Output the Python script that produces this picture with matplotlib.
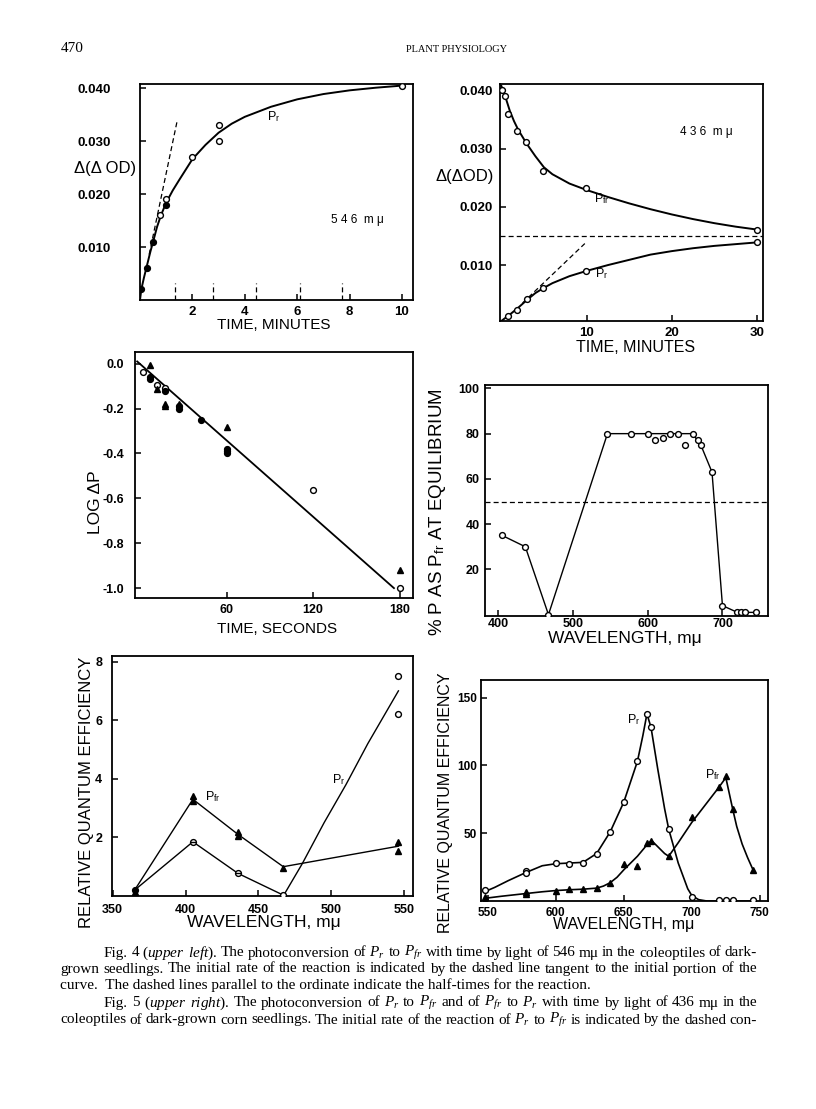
import matplotlib.pyplot as plt

W, H = 816, 1109
plt.rcParams['font.family'] = ['Liberation Sans', 'DejaVu Sans']
plt.rcParams['axes.unicode_minus'] = False
plt.rcParams['mathtext.fontset'] = 'custom'
plt.rcParams['mathtext.it'] = 'Liberation Serif:italic'
plt.rcParams['mathtext.rm'] = 'Liberation Serif'

# ---- Fig 4: Pr -> Pfr, 546 mu ----
f4_open_t = [0.75, 1.0, 2.0, 3.0, 3.0, 10.0]
f4_open_od = [0.016, 0.019, 0.027, 0.033, 0.030, 0.0405]
f4_fill_t = [0.05, 0.25, 0.5, 1.0]
f4_fill_od = [0.002, 0.006, 0.011, 0.018]
f4_curve_t = [0, 0.05, 0.15, 0.25, 0.4, 0.5, 0.65, 0.8, 1.0, 1.25, 1.5, 2.0, 2.5,
              3.0, 3.5, 4.0, 5.0, 6.0, 7.0, 8.0, 9.0, 10.0]
f4_curve_od = [0, 0.002, 0.0042, 0.0062, 0.0092, 0.011, 0.0138, 0.016, 0.0184, 0.0207,
               0.0227, 0.0266, 0.0293, 0.0316, 0.0333, 0.0346, 0.0365, 0.0379, 0.0389,
               0.0396, 0.0401, 0.0405]
f4_tangent_t = [0.35, 1.43]
f4_tangent_od = [0.0086, 0.0341]
f4_half_t = [1.33, 2.80, 4.41, 6.12, 7.71]

# ---- Fig 5: 436 mu ----
f5_pfr_t = [0.1, 0.4, 0.8, 1.8, 2.85, 4.84, 9.9, 30]
f5_pfr_od = [0.0400, 0.0391, 0.0360, 0.0330, 0.0311, 0.0262, 0.0232, 0.0161]
f5_pr_t = [0, 0.8, 1.9, 3.0, 4.84, 9.9, 30]
f5_pr_od = [0.0004, 0.00125, 0.0023, 0.0041, 0.0061, 0.0090, 0.0139]
f5_pfr_curve_t = [0, 0.5, 1, 1.5, 2, 3, 4, 5, 6, 8, 10, 12.5, 15, 17.5, 20, 22.5, 25, 27.5, 30]
f5_pfr_curve_od = [0.0408, 0.0388, 0.0365, 0.0347, 0.0332, 0.0308, 0.0287, 0.0268, 0.0256,
                   0.0240, 0.0229, 0.0217, 0.0206, 0.0196, 0.0187, 0.0179, 0.0172, 0.0166, 0.0161]
f5_pr_curve_t = [0, 1, 2, 3, 4, 5, 6, 8, 10, 12.5, 15, 17.5, 20, 22.5, 25, 27.5, 30]
f5_pr_curve_od = [0.0004, 0.0015, 0.0027, 0.0040, 0.0052, 0.0061, 0.0069, 0.0081, 0.0090,
                  0.0100, 0.0109, 0.0118, 0.0124, 0.0129, 0.0133, 0.0136, 0.0139]
f5_tangent_t = [2.5, 9.8]
f5_tangent_od = [0.0035, 0.0137]
f5_equil = 0.0150

# ---- log plot ----
log_line_t = [-2, 176]
log_line_v = [0.01, -1.0]
log_open_t = [2, 12, 17, 120, 180]
log_open_v = [-0.037, -0.095, -0.107, -0.565, -1.0]
log_fill_t = [7, 7, 17, 27, 27, 42, 60, 60, 60]
log_fill_v = [-0.06, -0.07, -0.122, -0.19, -0.20, -0.25, -0.378, -0.39, -0.40]
log_tri_t = [7, 12, 17, 17, 27, 60, 180]
log_tri_v = [-0.005, -0.115, -0.178, -0.19, -0.18, -0.28, -0.92]

# ---- % P as Pfr at equilibrium ----
eq_line_wl = [405, 436, 467, 546, 578, 600, 630, 640, 660, 671, 686, 700, 720, 725, 730, 745]
eq_line_pct = [35, 30, 0, 80, 80, 80, 80, 80, 80, 75, 63, 4, 1, 1, 1, 1]
eq_off_wl = [610, 620, 650, 667]
eq_off_pct = [77, 78, 75, 77]
eq_half = 50

# ---- quantum efficiency, blue ----
qb_pfr_wl = [365, 405, 436, 467, 546]
qb_pfr = [0.2, 3.3, 2.1, 1.0, 1.7]
qb_pfr_pts_wl = [365, 405, 405, 436, 436, 467, 546, 546]
qb_pfr_pts = [0.12, 3.4, 3.25, 2.2, 2.05, 0.97, 1.85, 1.54]
qb_theta_wl = [365, 405, 436, 467]
qb_theta = [0.2, 1.85, 0.77, 0.03]
qb_pr_wl = [467, 480, 495, 510, 525, 546]
qb_pr = [0.0, 1.1, 2.5, 3.8, 5.2, 7.0]
qb_pr_pts_wl = [546, 546]
qb_pr_pts = [7.5, 6.2]

# ---- quantum efficiency, red ----
qr_pr_wl = [548, 578, 578, 600, 610, 620, 630, 640, 650, 660, 667, 670, 683, 700, 720, 725, 730, 745]
qr_pr = [8, 22, 21, 28, 27, 28, 35, 51, 73, 103, 138, 128, 53, 3, 0.8, 0.8, 0.8, 0.5]
qr_pfr_wl = [548, 548, 578, 578, 600, 610, 620, 630, 640, 650, 660, 667, 670, 683, 700, 720, 725, 730, 745]
qr_pfr = [3, 1, 6.5, 5, 7.7, 8.7, 8.7, 9.4, 13, 27, 26, 43, 44, 33, 62, 84, 92, 68, 23]
qr_pr_curve_wl = [548, 555, 565, 578, 590, 600, 610, 620, 630, 640, 650, 660, 664, 667, 670,
                  675, 680, 683, 690, 697, 700, 705, 711, 720, 745]
qr_pr_curve = [7, 10, 15, 21, 26, 27.5, 28, 28.5, 35, 51, 73, 103, 122, 138, 128,
               97, 68, 53, 28, 9, 4, 1, 0, 0, 0]
qr_pfr_curve_wl = [548, 560, 578, 590, 600, 610, 620, 630, 635, 640, 645, 650, 655, 660, 665,
                   668, 671, 675, 680, 683, 690, 700, 710, 720, 725, 730, 733, 737, 741, 745]
qr_pfr_curve = [2, 3.5, 5.5, 6.8, 7.7, 8.3, 8.7, 9.5, 11, 13.5, 17.5, 23, 28, 33, 39,
                43, 44, 40, 35, 33, 43, 58, 71, 84, 91, 68, 55, 42, 32, 23]

fig = plt.figure(figsize=(W / 100, H / 100), dpi=100)


def box(l, t, r, b):
    return fig.add_axes([l / W, 1 - b / H, (r - l) / W, (b - t) / H])


def ptext(x, y, s, **kw):
    kw.setdefault('ha', 'center')
    kw.setdefault('va', 'center')
    return fig.text(x / W, 1 - y / H, s, **kw)


def style(ax, size=9, xpad=4, ypad=5):
    for s in ax.spines.values():
        s.set_linewidth(1.3)
    ax.tick_params(direction='in', length=4, width=1.1, labelsize=size)
    ax.tick_params(axis='x', pad=xpad)
    ax.tick_params(axis='y', pad=ypad)
    for lbl in ax.get_xticklabels() + ax.get_yticklabels():
        lbl.set_fontweight('bold')


op = dict(marker='o', ms=4.2, mfc='white', mec='black', mew=1.0, ls='none', zorder=3)
fl = dict(marker='o', ms=4.2, mfc='black', mec='black', ls='none', zorder=3)
tr = dict(marker='^', ms=4.2, mfc='black', mec='black', ls='none', zorder=3)
dash = dict(color='black', lw=0.9, ls=(0, (4, 2.5)))
PR = 'P$_\\mathregular{r}$'
PFR = 'P$_\\mathregular{fr}$'

# Fig 4
ax1 = box(140, 84, 413, 300)
ax1.plot(f4_curve_t, f4_curve_od, color='black', lw=1.4)
ax1.plot(f4_tangent_t, f4_tangent_od, **dash)
for t in f4_half_t:
    ax1.plot([t, t], [0, 0.0033], **dash)
ax1.plot(f4_open_t, f4_open_od, **op)
ax1.plot(f4_fill_t, f4_fill_od, **fl)
ax1.set_xlim(0, 10.42)
ax1.set_ylim(0, 0.0408)
ax1.set_xticks([2, 4, 6, 8, 10])
ax1.set_yticks([0.01, 0.02, 0.03, 0.04])
ax1.set_yticklabels(['0.010', '0.020', '0.030', '0.040'])
ax1.text(5.1, 0.0346, PR, fontsize=9, ha='center', va='center')
ax1.text(8.3, 0.0151, '5 4 6  m μ', fontsize=8.5, ha='center', va='center')
style(ax1, size=9.5, xpad=4, ypad=21)
ptext(105, 168, 'Δ(Δ OD)', fontsize=12)
ptext(274, 325, 'TIME, MINUTES', fontsize=11)

# Fig 5
ax2 = box(500, 84, 763, 321)
ax2.plot(f5_pfr_curve_t, f5_pfr_curve_od, color='black', lw=1.4)
ax2.plot(f5_pr_curve_t, f5_pr_curve_od, color='black', lw=1.4)
ax2.plot(f5_tangent_t, f5_tangent_od, **dash)
ax2.axhline(f5_equil, **dash)
ax2.plot(f5_pfr_t, f5_pfr_od, **op)
ax2.plot(f5_pr_t[1:], f5_pr_od[1:], **op)
ax2.set_xlim(-0.15, 30.7)
ax2.set_ylim(0.0004, 0.0411)
ax2.set_xticks([10, 20, 30])
ax2.set_yticks([0.01, 0.02, 0.03, 0.04])
ax2.set_yticklabels(['0.010', '0.020', '0.030', '0.040'])
ax2.text(11.8, 0.0215, PFR, fontsize=9, ha='center', va='center')
ax2.text(11.8, 0.0085, PR, fontsize=9, ha='center', va='center')
ax2.text(24.1, 0.0329, '4 3 6  m μ', fontsize=8.5, ha='center', va='center')
style(ax2, size=9.5, xpad=4, ypad=5)
ptext(465, 177, 'Δ(ΔOD)', fontsize=12)
ptext(636, 347, 'TIME, MINUTES', fontsize=11.5)

# log plot
ax3 = box(135, 352, 413, 598)
ax3.plot(log_line_t, log_line_v, color='black', lw=1.3)
ax3.plot(log_open_t, log_open_v, **op)
ax3.plot(log_fill_t, log_fill_v, **fl)
ax3.plot(log_tri_t, log_tri_v, **tr)
ax3.set_xlim(-3.5, 189.2)
ax3.set_ylim(-1.044, 0.052)
ax3.set_xticks([60, 120, 180])
ax3.set_yticks([0.0, -0.2, -0.4, -0.6, -0.8, -1.0])
ax3.set_yticklabels(['0.0', '-0.2', '-0.4', '-0.6', '-0.8', '-1.0'])
style(ax3, size=9, xpad=4, ypad=8)
ptext(96, 502, 'LOG ΔP', fontsize=12.5, rotation=90)
ptext(277, 629, 'TIME, SECONDS', fontsize=11)

# equilibrium
ax4 = box(485, 385, 768, 616)
ax4.plot(eq_line_wl, eq_line_pct, color='black', lw=1.0)
ax4.axhline(eq_half, **dash)
ax4.plot(eq_line_wl, eq_line_pct, **op)
ax4.plot(eq_off_wl, eq_off_pct, **op)
ax4.set_xlim(382, 761)
ax4.set_ylim(-0.6, 101.5)
ax4.set_xticks([400, 500, 600, 700])
ax4.set_yticks([20, 40, 60, 80, 100])
style(ax4, size=9, xpad=1.5, ypad=4)
ptext(438, 512, '% P AS ' + PFR + ' AT EQUILIBRIUM', fontsize=13.5, rotation=90)
ptext(625, 638, 'WAVELENGTH, mμ', fontsize=12.5)

# quantum efficiency, blue
ax5 = box(112, 656, 413, 896)
ax5.plot(qb_pfr_wl, qb_pfr, color='black', lw=1.0)
ax5.plot(qb_theta_wl, qb_theta, color='black', lw=1.0)
ax5.plot(qb_pr_wl, qb_pr, color='black', lw=1.0)
ax5.plot(qb_pfr_pts_wl, qb_pfr_pts, **tr)
ax5.plot(qb_theta_wl[1:], qb_theta[1:], **op)
ax5.plot(qb_theta_wl[1:3], qb_theta[1:3], marker='_', ms=4.2, mew=1.0, color='black', ls='none', zorder=4)
ax5.plot(qb_theta_wl[:1], qb_theta[:1], **fl)
ax5.plot(qb_pr_pts_wl, qb_pr_pts, **op)
ax5.set_xlim(349.5, 556)
ax5.set_ylim(0, 8.19)
ax5.set_xticks([350, 400, 450, 500, 550])
ax5.set_yticks([2, 4, 6, 8])
ax5.text(418.7, 3.39, PFR, fontsize=9, ha='center', va='center')
ax5.text(505, 3.96, PR, fontsize=9, ha='center', va='center')
style(ax5, size=9, xpad=6, ypad=7)
ptext(87, 792, 'RELATIVE QUANTUM EFFICIENCY', fontsize=12, rotation=90)
ptext(264, 923, 'WAVELENGTH, mμ', fontsize=12.5)

# quantum efficiency, red
ax6 = box(481, 680, 768, 901)
ax6.plot(qr_pr_curve_wl, qr_pr_curve, color='black', lw=1.2)
ax6.plot(qr_pfr_curve_wl, qr_pfr_curve, color='black', lw=1.2)
ax6.plot(qr_pr_wl, qr_pr, **op)
ax6.plot(qr_pfr_wl, qr_pfr, **tr)
ax6.set_xlim(545, 756)
ax6.set_ylim(0, 163)
ax6.set_xticks([550, 600, 650, 700, 750])
ax6.set_yticks([50, 100, 150])
ax6.text(657, 134, PR, fontsize=9, ha='center', va='center')
ax6.text(715.7, 93, PFR, fontsize=9, ha='center', va='center')
style(ax6, size=8.5, xpad=4, ypad=3)
ptext(446, 803, 'RELATIVE QUANTUM EFFICIENCY', fontsize=11.5, rotation=90)
ptext(624, 925, 'WAVELENGTH, mμ', fontsize=11.5)

# page header and caption
ptext(72, 49, '470', fontsize=11, family='Liberation Serif')
ptext(456, 49, 'PLANT PHYSIOLOGY', fontsize=7.5, family='Liberation Serif')

cap = [
    (104, 953, True, 'Fig. 4 ($\\mathit{upper}$ $\\mathit{left}$).  The photoconversion of $\\mathit{P}_\\mathit{r}$ to $\\mathit{P}_\\mathit{fr}$ with time by light of 546 mμ in the coleoptiles of dark-'),
    (60, 969, True, 'grown seedlings.  The initial rate of the reaction is indicated by the dashed line tangent to the initial portion of the'),
    (60, 985, False, 'curve.  The dashed lines parallel to the ordinate indicate the half-times for the reaction.'),
    (104, 1003, True, 'Fig. 5 ($\\mathit{upper}$ $\\mathit{right}$).  The photoconversion of $\\mathit{P}_\\mathit{r}$ to $\\mathit{P}_\\mathit{fr}$ and of $\\mathit{P}_\\mathit{fr}$ to $\\mathit{P}_\\mathit{r}$ with time by light of 436 mμ in the'),
    (60, 1020, True, 'coleoptiles of dark-grown corn seedlings.  The initial rate of the reaction of $\\mathit{P}_\\mathit{r}$ to $\\mathit{P}_\\mathit{fr}$ is indicated by the dashed con-'),
]
renderer = fig.canvas.get_renderer()
for x0, y, just, s in cap:
    if not just:
        ptext(x0, y, s, fontsize=11, family='Liberation Serif', ha='left')
        continue
    words = [w for w in s.split(' ') if w]
    items = [ptext(x0, y, w, fontsize=11, family='Liberation Serif', ha='left') for w in words]
    widths = [t.get_window_extent(renderer).width for t in items]
    gap = (757 - x0 - sum(widths)) / (len(words) - 1)
    x = x0
    for t, w in zip(items, widths):
        t.set_x(x / W)
        x += w + gap

fig.savefig('out.png', dpi=100)
